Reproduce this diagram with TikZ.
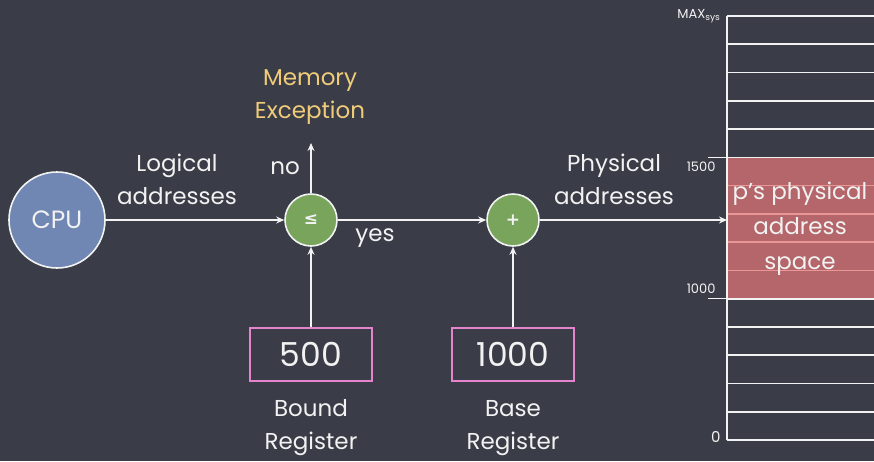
\documentclass[tikz,border=0pt]{standalone}
\usepackage{fontspec}
\setmainfont{Poppins}
\newfontfamily\opsymfont{DejaVu Sans}
\usetikzlibrary{arrows.meta}
\definecolor{board}{RGB}{58,61,71}
\definecolor{chalk}{RGB}{242,242,242}
\definecolor{cpublue}{RGB}{112,135,180}
\definecolor{opgreen}{RGB}{121,164,92}
\definecolor{regpink}{RGB}{228,132,204}
\definecolor{excyellow}{RGB}{240,204,122}
\definecolor{pspace}{RGB}{180,102,106}
\definecolor{pline}{RGB}{232,150,150}
\begin{document}
\begin{tikzpicture}[x=1pt,y=-1pt,
  every node/.style={text=chalk},
  cpu/.style={circle,draw=chalk,line width=1.6pt,fill=cpublue,minimum size=96pt,inner sep=0pt,font=\fontsize{25}{28}\selectfont},
  op/.style={circle,draw=chalk,line width=1.6pt,fill=opgreen,minimum size=52pt,inner sep=0pt,font=\opsymfont\fontsize{17}{20}\selectfont\bfseries},
  reg/.style={rectangle,draw=regpink,line width=1.4pt,minimum width=122pt,minimum height=53pt,inner sep=0pt,font=\fontsize{33}{36}\selectfont},
  lbl/.style={align=center,font=\fontsize{23}{33}\selectfont},
  conn/.style={draw=chalk,line width=1.3pt,-{Stealth[length=8pt,width=7pt]}},
  slot/.style={draw=chalk,line width=1.6pt},
  inslot/.style={draw=pline,line width=1.4pt},
  small/.style={font=\fontsize{13}{15}\selectfont}
]
\fill[board] (0,0) rectangle (874,461);
\useasboundingbox (0,0) rectangle (874,461);

% translation pipeline
\node[cpu] (cpu) at (57,220) {CPU};
\node[op] (cmp) at (311,220) {≤};
\node[op] (add) at (513,220) {+};
\node[reg] (bound) at (311,354.5) {500};
\node[reg] (base) at (513,354.5) {1000};
\coordinate (exc) at (311,143);
\coordinate (mem) at (727,220);

\draw[conn] (cpu) -- (cmp);
\draw[conn] (cmp) -- (add);
\draw[conn] (add) -- (mem);
\draw[conn] (bound) -- (cmp);
\draw[conn] (base) -- (add);
\draw[conn] (cmp) -- (exc);

% labels
\node[lbl,text=excyellow] (memexc) at (310,97) {Memory\\Exception};
\node[lbl] (no) at (285,168) {no};
\node[lbl] (yes) at (375,238) {yes};
\node[lbl] (logical) at (177,179) {Logical\\addresses};
\node[lbl] (physical) at (614,179) {Physical\\addresses};
\node[lbl] (boundlbl) at (311,428) {Bound\\Register};
\node[lbl] (baselbl) at (513,428) {Base\\Register};

% physical memory
\fill[pspace] (727,157.3) rectangle (874,298.7);
\foreach \i in {0,...,15}{
  \pgfmathsetmacro{\yy}{16+28.27*\i}
  \ifnum\i>5 \ifnum\i<10
    \draw[inslot] (727,\yy) -- (874,\yy);
  \else
    \draw[slot] (727,\yy) -- (874,\yy);
  \fi\else
    \draw[slot] (727,\yy) -- (874,\yy);
  \fi
}
\draw[slot] (727,16) -- (727,440);
\draw[draw=chalk!80,line width=1.3pt] (708,157.3) -- (727,157.3);
\draw[draw=chalk!80,line width=1.3pt] (708,298.7) -- (727,298.7);
\node[lbl,font=\fontsize{23}{35}\selectfont] (pas) at (800,229) {p's physical\\address\\space};
\node[small,anchor=east] (m1500) at (719,167) {1500};
\node[small,anchor=east] (m1000) at (719,289) {1000};
\node[font=\fontsize{15}{17}\selectfont,anchor=east] (m0) at (724,437) {0};
\node[font=\fontsize{13}{15}\selectfont,anchor=east] (mmax) at (724,16) {MAX\textsubscript{sys}};
\end{tikzpicture}
\end{document}
